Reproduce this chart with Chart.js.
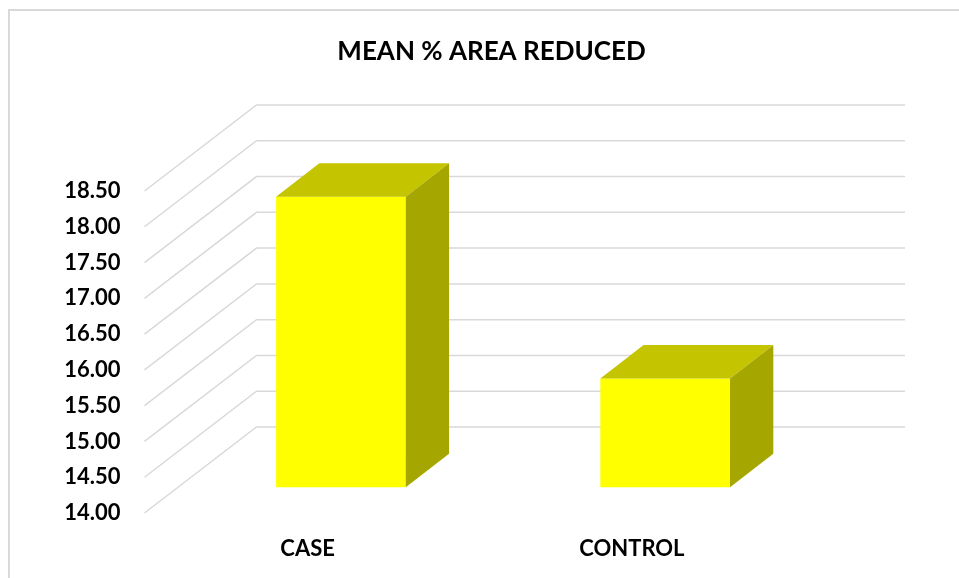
<!DOCTYPE html>
<html>
<head>
<meta charset="utf-8">
<script src="https://cdn.jsdelivr.net/npm/chart.js@4.4.1/dist/chart.umd.min.js"></script>
<style>
  body { margin: 0; background: #fff; }
  canvas { display: block; }
</style>
</head>
<body>
<canvas id="myChart" width="959" height="578"></canvas>
<script>
const categories = ["CASE", "CONTROL"];
const meanReduced = [18.06, 15.52];
const yMin = 14.0;
const yMax = 18.5;
const yStep = 0.5;

// 3D look: depth of the whole floor and where the bars sit inside it
const DEPTH_X = 111, DEPTH_Y = -86;
const BAR_FRONT = 0.30;   // fraction of depth where bar front face sits
const BAR_DEPTH = 0.39;   // fraction of depth the bar occupies

const gridColor = "#d9d9d9";

const wallPlugin = {
  id: "wall3d",
  beforeDraw(chart) {
    const c = chart.ctx;
    // outer chart border (only top & left visible in the picture)
    c.save();
    c.strokeStyle = gridColor;
    c.lineWidth = 2;
    c.beginPath();
    c.moveTo(9, 578);
    c.lineTo(9, 10);
    c.lineTo(959, 10);
    c.stroke();

    // gridlines: diagonal on the side wall, then flat on the back wall
    const y = chart.scales.y;
    const area = chart.chartArea;
    c.lineWidth = 1.5;
    y.ticks.forEach((t) => {
      const py = y.getPixelForValue(t.value);
      c.beginPath();
      c.moveTo(area.left - 1, py);
      c.lineTo(area.left + DEPTH_X, py + DEPTH_Y);
      c.lineTo(area.right + DEPTH_X, py + DEPTH_Y);
      c.stroke();
    });
    c.restore();
  },
  beforeDatasetsDraw(chart) {
    chart.ctx.save();
    chart.ctx.translate(DEPTH_X * BAR_FRONT, DEPTH_Y * BAR_FRONT);
  },
  afterDatasetsDraw(chart) {
    const c = chart.ctx;
    const dx = DEPTH_X * BAR_DEPTH, dy = DEPTH_Y * BAR_DEPTH;
    const base = chart.scales.y.getPixelForValue(yMin);
    chart.getDatasetMeta(0).data.forEach((bar) => {
      const p = bar.getProps(["x", "y", "width"], true);
      const l = p.x - p.width / 2, r = p.x + p.width / 2;
      // top face
      c.fillStyle = "#c4c400";
      c.beginPath();
      c.moveTo(l, p.y);
      c.lineTo(l + dx, p.y + dy);
      c.lineTo(r + dx, p.y + dy);
      c.lineTo(r, p.y);
      c.closePath();
      c.fill();
      // side face
      c.fillStyle = "#a6a600";
      c.beginPath();
      c.moveTo(r, p.y);
      c.lineTo(r + dx, p.y + dy);
      c.lineTo(r + dx, base + dy);
      c.lineTo(r, base);
      c.closePath();
      c.fill();
    });
    c.restore();
  }
};

const ctx = document.getElementById("myChart");
const myChart = new Chart(ctx, {
  type: "bar",
  data: {
    labels: categories,
    datasets: [{
      label: "MEAN % AREA REDUCED",
      data: meanReduced,
      backgroundColor: "#ffff00",
      borderWidth: 0,
      barPercentage: 0.4,
      categoryPercentage: 1.0
    }]
  },
  options: {
    responsive: false,
    animation: false,
    devicePixelRatio: 1,
    layout: { padding: { left: 24, right: 0, top: 0, bottom: 0 } },
    plugins: {
      legend: { display: false },
      tooltip: { enabled: false },
      title: {
        display: true,
        text: "MEAN % AREA REDUCED",
        color: "#000",
        font: { family: "Lato", size: 26, weight: "bold", lineHeight: 1.2 },
        padding: { top: 36.4, bottom: 123.4 }
      }
    },
    scales: {
      x: {
        grid: { display: false, drawTicks: false },
        border: { display: false },
        ticks: {
          color: "#000",
          font: { family: "Lato", size: 22, weight: "bold" },
          padding: 23
        },
        afterFit(scale) { scale.height = 65; }
      },
      y: {
        min: yMin,
        max: yMax,
        grid: { display: false, drawTicks: false },
        border: { display: false },
        ticks: {
          stepSize: yStep,
          color: "#000",
          font: { family: "Lato", size: 22, weight: "bold" },
          padding: 25,
          callback: (v) => Number(v).toFixed(2)
        },
        afterFit(scale) { scale.width = 121.5; }
      },
      // empty right axis that only reserves room for the back wall
      yRight: {
        position: "right",
        min: yMin,
        max: yMax,
        grid: { display: false, drawTicks: false },
        border: { display: false },
        ticks: { display: false },
        afterFit(scale) { scale.width = 165; }
      }
    }
  },
  plugins: [wallPlugin]
});
</script>
</body>
</html>
